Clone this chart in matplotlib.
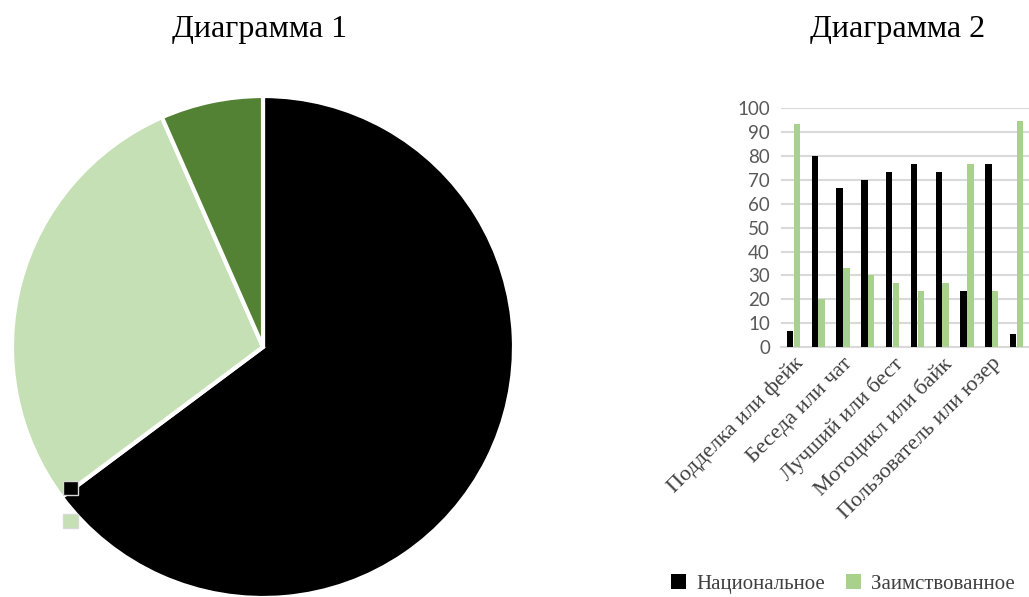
import matplotlib
matplotlib.use('Agg')
import matplotlib.pyplot as plt
import numpy as np

# Diagram 1 (pie)
pie_labels = ['Национальное', 'Заимствованное', 'Смешанное']
pie_values = [64.8, 28.6, 6.6]
pie_colors = ['#000000', '#C5E0B4', '#548235']

# Diagram 2 (bars), 10 groups, Excel shows every second label
shown_labels = ['Подделка или фейк', 'Беседа или чат', 'Лучший или бест',
                'Мотоцикл или байк', 'Пользователь или юзер']
national = [6.7, 80.0, 66.7, 70.0, 73.3, 76.7, 73.3, 23.3, 76.7, 5.3]
borrowed = [93.3, 20.0, 33.3, 30.0, 26.7, 23.3, 26.7, 76.7, 23.3, 94.7]
series_names = ['Национальное', 'Заимствованное']
bar_colors = ['#000000', '#A9D18E']

W, H = 1029, 597
fig = plt.figure(figsize=(W / 100, H / 100), dpi=100)
serif = 'Liberation Serif'

fig.text(260 / W, 1 - 29 / H, 'Диаграмма 1', family=serif, fontsize=23,
         ha='center', va='center', color='#000000')
fig.text(898 / W, 1 - 29 / H, 'Диаграмма 2', family=serif, fontsize=23,
         ha='center', va='center', color='#000000')

# ---- pie ----
cx, cy, r = 263, 347, 251
ax1 = fig.add_axes([(cx - r) / W, (H - cy - r) / H, 2 * r / W, 2 * r / H])
wedges, _ = ax1.pie(pie_values, colors=pie_colors, startangle=90, counterclock=False,
                    radius=1, wedgeprops=dict(edgecolor='white', linewidth=3))
ax1.set_xlim(-1, 1)
ax1.set_ylim(-1, 1)
ax1.axis('off')
# legend squares only peek out, labels are lost under the pie in the original
leg1 = ax1.legend(wedges, pie_labels, loc='upper left',
                  bbox_to_anchor=((47 - (cx - r)) / (2 * r), 1 - (465 - (cy - r)) / (2 * r)),
                  frameon=False, handlelength=0.8, handleheight=0.8,
                  labelspacing=0.85, prop={'family': serif, 'size': 13})
for t in leg1.get_texts():
    t.set_alpha(0)
for h in leg1.legend_handles:
    h.set_linewidth(1)
    h.set_edgecolor('#D9D9D9')
leg1.legend_handles[2].set_visible(False)

# ---- bars ----
ax2 = fig.add_axes([781 / W, (H - 347) / H, 248 / W, (347 - 108.3) / H])
x = np.arange(len(national))
bw = 0.26
ax2.bar(x - 0.14, national, width=bw, color=bar_colors[0], label=series_names[0], zorder=3)
ax2.bar(x + 0.14, borrowed, width=bw, color=bar_colors[1], label=series_names[1], zorder=3)
ax2.set_xlim(-0.5, 9.5)
ax2.set_ylim(0, 100)
ax2.set_yticks(np.arange(0, 101, 10))
ax2.yaxis.grid(True, color='#D9D9D9', linewidth=1.5, zorder=0)
ax2.set_axisbelow(True)
for s in ['top', 'right', 'left']:
    ax2.spines[s].set_visible(False)
ax2.spines['bottom'].set_color('#D9D9D9')
ax2.spines['bottom'].set_linewidth(1.5)
ax2.tick_params(length=0)
ax2.tick_params(axis='y', labelsize=13.5, labelcolor='#595959', pad=8)
for lab in ax2.get_yticklabels():
    lab.set_family('Lato')
ax2.set_xticks(x[::2])
ax2.set_xticklabels(shown_labels, rotation=45, ha='right', rotation_mode='anchor',
                    family=serif, fontsize=16, color='#404040')
ax2.tick_params(axis='x', pad=5)

fig.legend(loc='center', bbox_to_anchor=(843 / W, 1 - 584 / H), ncol=2, frameon=False,
           handlelength=0.7, handleheight=0.7, handletextpad=0.5, columnspacing=1.0,
           prop={'family': serif, 'size': 15}, labelcolor='#404040')

fig.savefig('out.png', dpi=100)
